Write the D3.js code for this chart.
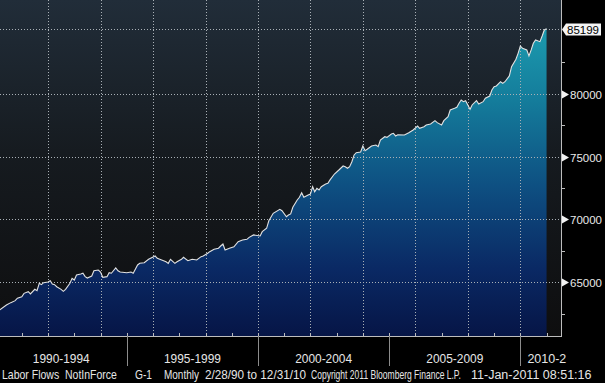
<!DOCTYPE html>
<html>
<head>
<meta charset="utf-8">
<script src="https://cdnjs.cloudflare.com/ajax/libs/d3/7.8.5/d3.min.js"></script>
<style>
	html, body { margin:0; padding:0; background:#000; }
	svg { display:block; }
	text { font-family:"Liberation Sans", Arial, sans-serif; }
</style>
</head>
<body>
<div id="chart"></div>
<script>

// DATA (monthly)
var months = [
	"1990-02","1990-05","1990-07","1990-09","1990-10","1990-12","1991-01","1991-03","1991-04","1991-06",
	"1991-07","1991-08","1991-09","1991-10","1991-12","1992-01","1992-02","1992-03","1992-04","1992-06",
	"1992-07","1992-08","1992-10","1992-11","1992-12","1993-01","1993-03","1993-04","1993-05","1993-06",
	"1993-08","1993-09","1993-11","1993-12","1994-01","1994-03","1994-04","1994-05","1994-07","1994-08",
	"1994-09","1994-12","1995-02","1995-03","1995-05","1995-06","1995-08","1995-10","1996-01","1996-02",
	"1996-04","1996-06","1996-07","1996-08","1996-10","1996-11","1997-01","1997-02","1997-04","1997-06",
	"1997-08","1997-10","1997-11","1998-01","1998-02","1998-04","1998-06","1998-07","1998-08","1998-09",
	"1998-11","1999-01","1999-03","1999-05","1999-07","1999-08","1999-10","2000-01","2000-02","2000-04",
	"2000-05","2000-07","2000-10","2000-11","2001-01","2001-02","2001-03","2001-04","2001-06","2001-07",
	"2001-08","2001-09","2001-11","2001-12","2002-01","2002-02","2002-03","2002-04","2002-05","2002-07",
	"2002-08","2002-09","2002-11","2003-01","2003-03","2003-04","2003-05","2003-06","2003-07","2003-08",
	"2003-09","2003-11","2003-12","2004-01","2004-02","2004-04","2004-06","2004-07","2004-08","2004-10",
	"2004-11","2005-01","2005-02","2005-03","2005-04","2005-07","2005-09","2005-11","2006-01","2006-02",
	"2006-04","2006-05","2006-07","2006-09","2006-10","2006-12","2007-01","2007-03","2007-04","2007-06",
	"2007-07","2007-08","2007-09","2007-10","2007-11","2007-12","2008-01","2008-02","2008-04","2008-05",
	"2008-07","2008-08","2008-10","2008-11","2008-12","2009-01","2009-03","2009-04","2009-05","2009-07",
	"2009-08","2009-10","2009-11","2009-12","2010-01","2010-03","2010-04","2010-05","2010-06","2010-07",
	"2010-09","2010-10","2010-11","2010-12"
];
var notInForce = [
	62800,63190,63380,63540,63730,63850,64120,64250,64070,64440,
	64330,64920,64810,64970,65020,65130,64860,64810,64650,64440,
	64280,64440,64920,65320,65180,65580,65660,65720,65450,65340,
	65500,65920,65980,65820,65400,65450,65760,65720,66140,65920,
	65820,65760,65820,65720,66380,66510,66560,66830,67090,66910,
	66780,66640,66510,66830,66510,66640,66830,66990,66720,66830,
	66780,67040,67090,67310,67440,67630,67710,67890,68050,67570,
	67710,67830,68230,68370,68420,68580,68770,68690,69030,69300,
	69900,70490,70810,70700,70220,70360,70440,70970,71550,71770,
	72130,71770,71950,72030,72610,72210,72480,72350,72610,72830,
	72880,73150,73620,73940,74260,74200,74080,74200,74600,75140,
	75320,75370,75850,75480,75590,75850,75930,75800,76330,76590,
	76540,76810,76860,76650,76750,76730,76910,77130,77440,77260,
	77390,77520,77600,77870,77710,77520,77870,78190,78720,78850,
	78930,79250,79510,79380,79460,79120,78770,79120,79460,79200,
	79380,79650,79830,80310,80570,80630,80970,80840,80970,81430,
	82170,82760,83230,83810,83630,83500,83020,83500,84030,84290,
	84160,84610,85090,85199
];
var yTicks = [65000, 70000, 75000, 80000];
var yMinorTicks = [62500, 67500, 72500, 77500, 82500];
var periodStarts = [1990, 1995, 2000, 2005, 2010];
var periodLabels = ["1990-1994", "1995-1999", "2000-2004", "2005-2009", "2010-2"];
var footerTexts = ["Labor Flows  NotInForce", "G-1", "Monthly", "2/28/90 to 12/31/10",
	"Copyright 2011 Bloomberg Finance L.P.", "11-Jan-2011 08:51:16"];

/////////////////////////

var W = 605, H = 383;
var plotW = 561, plotH = 336;

// footer layout: [left, width] per text piece
var footerLayout = [[2,115],[135,17],[164,35],[205,101],[311,150],[471,131]];

var parseMonth = d3.timeParse("%Y-%m");
var data = months.map(function(m, i){
	// monthly values are dated at the end of each month
	var d = d3.timeDay.offset(d3.timeMonth.offset(parseMonth(m), 1), -1);
	return {date:d, value:notInForce[i]};
});

var x = d3.scaleTime()
	.domain([new Date(1990,0,1), new Date(2010,0,1)])
	.range([-4.35, 520.4]);
var y = d3.scaleLinear()
	.domain([60724, 87476])
	.range([plotH, 0]);

var svg = d3.select("#chart").append("svg")
	.attr("width", W)
	.attr("height", H);

var defs = svg.append("defs");

// background gradient
var bg = defs.append("linearGradient").attr("id","bg")
	.attr("x1",0).attr("y1",0).attr("x2",0).attr("y2",1);
bg.append("stop").attr("offset","0%").attr("stop-color","#212d39");
bg.append("stop").attr("offset","45%").attr("stop-color","#161b20");
bg.append("stop").attr("offset","100%").attr("stop-color","#0e0e0f");

// area gradient
var ag = defs.append("linearGradient").attr("id","areaGrad")
	.attr("gradientUnits","userSpaceOnUse")
	.attr("x1",0).attr("y1",0).attr("x2",0).attr("y2",plotH);
ag.append("stop").attr("offset","0%").attr("stop-color","#1fa6b6");
ag.append("stop").attr("offset","30%").attr("stop-color","#147c9b");
ag.append("stop").attr("offset","55%").attr("stop-color","#0e5082");
ag.append("stop").attr("offset","80%").attr("stop-color","#0a2964");
ag.append("stop").attr("offset","100%").attr("stop-color","#061546");

defs.append("clipPath").attr("id","plotClip")
	.append("rect").attr("x",0).attr("y",0).attr("width",plotW).attr("height",plotH);

svg.append("rect")
	.attr("width", plotW).attr("height", plotH)
	.attr("fill", "url(#bg)");

var plot = svg.append("g").attr("clip-path","url(#plotClip)");

// area + line
var area = d3.area()
	.x(function(d){ return x(d.date); })
	.y0(plotH)
	.y1(function(d){ return y(d.value); });
var line = d3.line()
	.x(function(d){ return x(d.date); })
	.y(function(d){ return y(d.value); });

plot.append("path")
	.datum(data)
	.attr("d", area)
	.attr("fill", "url(#areaGrad)");

// grid (dotted, drawn over the area)
var gridColor = "#a9b0b6";
var gridYears = d3.range(1992, 2011, 2);
plot.selectAll("line.vgrid").data(gridYears).enter().append("line")
	.attr("class", "vgrid")
	.attr("x1", function(d){ return Math.round(x(new Date(d,0,1)))+0.5; })
	.attr("x2", function(d){ return Math.round(x(new Date(d,0,1)))+0.5; })
	.attr("y1", 0).attr("y2", plotH)
	.attr("stroke", gridColor)
	.attr("stroke-width", 1)
	.attr("stroke-dasharray", "1,2");

var last = data[data.length-1];
plot.selectAll("line.hgrid").data(yTicks.concat([last.value])).enter().append("line")
	.attr("class", "hgrid")
	.attr("x1", 0).attr("x2", plotW)
	.attr("y1", function(d){ return Math.round(y(d))+0.5; })
	.attr("y2", function(d){ return Math.round(y(d))+0.5; })
	.attr("stroke", gridColor)
	.attr("stroke-width", 1)
	.attr("stroke-dasharray", "1,2");

plot.append("path")
	.datum(data)
	.attr("d", line)
	.attr("fill", "none")
	.attr("stroke", "#e2e2e2")
	.attr("stroke-width", 1.1);

// right axis
var axisColor = "#bdbdbd";
svg.append("line")
	.attr("x1", plotW+0.5).attr("x2", plotW+0.5)
	.attr("y1", 0).attr("y2", plotH+0.5)
	.attr("stroke", axisColor);

svg.selectAll("line.ymin").data(yMinorTicks).enter().append("line")
	.attr("class", "ymin")
	.attr("x1", plotW).attr("x2", plotW+4)
	.attr("y1", function(d){ return Math.round(y(d))+0.5; })
	.attr("y2", function(d){ return Math.round(y(d))+0.5; })
	.attr("stroke", axisColor);

var yt = svg.selectAll("g.ytick").data(yTicks).enter().append("g")
	.attr("class", "ytick")
	.attr("transform", function(d){ return "translate("+(plotW+1)+","+(Math.round(y(d))+0.5)+")"; });
yt.append("path")
	.attr("d", "M0,-4L7,0L0,4Z")
	.attr("fill", "#f2f2f2");
yt.append("text")
	.attr("x", 8).attr("dy", "0.36em")
	.attr("fill", "#e8e8e8")
	.style("font-size", "11.5px")
	.text(function(d){ return d; });

// last value box
var ly = Math.round(y(last.value))+0.5;
var lastG = svg.append("g").attr("transform", "translate("+(plotW+1)+","+ly+")");
lastG.append("path")
	.attr("d", "M0,0L4,-6L39,-6L39,6L4,6Z")
	.attr("fill", "#f4f4f4");
lastG.append("text")
	.attr("x", 5).attr("dy", "0.36em")
	.attr("fill", "#000")
	.style("font-size", "11.5px")
	.text(last.value);

// bottom axis
svg.append("line")
	.attr("x1", 0).attr("x2", plotW+1)
	.attr("y1", plotH+0.5).attr("y2", plotH+0.5)
	.attr("stroke", axisColor);

svg.selectAll("line.xtick").data(d3.range(1990, 2012)).enter().append("line")
	.attr("class", "xtick")
	.attr("x1", function(d){ return Math.round(x(new Date(d,0,1)))+0.5; })
	.attr("x2", function(d){ return Math.round(x(new Date(d,0,1)))+0.5; })
	.attr("y1", plotH-3).attr("y2", plotH)
	.attr("stroke", axisColor);

svg.selectAll("line.sep").data(periodStarts.slice(1)).enter().append("line")
	.attr("class", "sep")
	.attr("x1", function(d){ return Math.round(x(new Date(d,0,1)))+0.5; })
	.attr("x2", function(d){ return Math.round(x(new Date(d,0,1)))+0.5; })
	.attr("y1", plotH).attr("y2", 366)
	.attr("stroke", "#8c8c8c");

// squeeze a text horizontally so it fits a given width (Bloomberg's narrow font)
function squeeze(sel, width){
	sel.each(function(){
		var w = this.getComputedTextLength();
		var sx = Math.min(1, width/w);
		var t = d3.select(this).attr("transform") || "";
		d3.select(this).attr("transform", t+" scale("+sx+",1)");
	});
}

svg.selectAll("text.plabel").data(periodLabels).enter().append("text")
	.attr("class", "plabel")
	.attr("transform", function(d, i){
		var cx;
		if(i==periodLabels.length-1) cx = x(new Date(periodStarts[i],0,1))+7;
		else cx = (x(new Date(periodStarts[i],0,1)) + x(new Date(periodStarts[i]+5,0,1)))/2;
		return "translate("+cx+",363)";
	})
	.style("text-anchor", function(d, i){ return i==periodLabels.length-1 ? "start" : "middle"; })
	.attr("fill", "#e6e6e6")
	.style("font-size", "12.5px")
	.text(function(d){ return d; })
	.call(squeeze, 57);

// footer
svg.selectAll("text.foot").data(footerTexts).enter().append("text")
	.attr("class", "foot")
	.attr("transform", function(d, i){ return "translate("+footerLayout[i][0]+",379)"; })
	.attr("fill", "#e6e6e6")
	.style("font-size", "12.5px")
	.style("white-space", "pre")
	.text(function(d){ return d; })
	.each(function(d, i){ d3.select(this).call(squeeze, footerLayout[i][1]); });

</script>
</body>
</html>
